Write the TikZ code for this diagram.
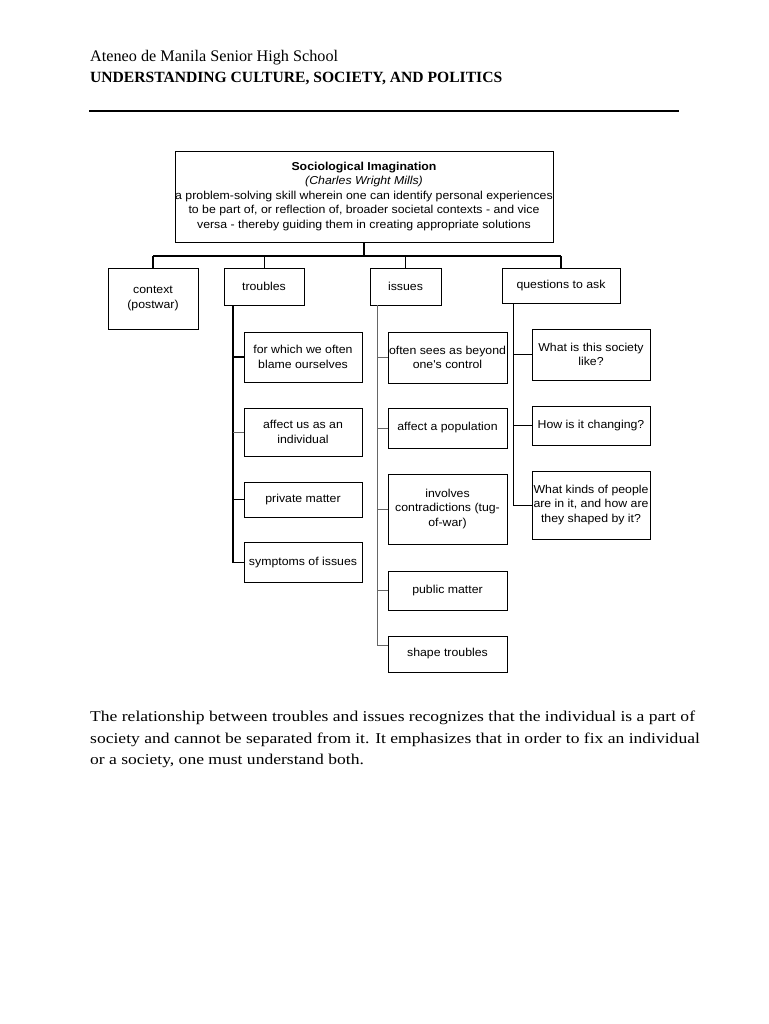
\documentclass[tikz,border=0pt]{standalone}
\usepackage{fontspec}
\setmainfont{Liberation Serif}
\newfontfamily\diagfont[FakeStretch=1.07]{Liberation Sans}
\newfontfamily\parafont[FakeStretch=1.17]{Liberation Serif}
\begin{document}
\begin{tikzpicture}[x=1pt,y=-1pt,
  bx/.style={draw, line width=0.9pt, align=center, inner sep=0pt,
    font=\diagfont\fontsize{11.5}{14.5}\selectfont},
  paraline/.style={anchor=base west, inner sep=0pt, font=\parafont\fontsize{15}{21.5}\selectfont},
  conn/.style={line width=1pt},
  thickconn/.style={line width=1.6pt},
  greyconn/.style={line width=0.8pt, draw=black!60}]
\useasboundingbox (0,0) rectangle (768,1024);
% header
\node[anchor=base west, inner sep=0pt, font=\fontsize{16.2}{19}\selectfont] (h1) at (90,62) {Ateneo de Manila Senior High School};
\node[anchor=base west, inner sep=0pt, font=\bfseries\fontsize{15.6}{19}\selectfont] (h2) at (90,83) {UNDERSTANDING CULTURE, SOCIETY, AND POLITICS};
\coordinate (ruleL) at (89,111);
\coordinate (ruleR) at (679,111);
\draw[line width=2pt] (ruleL) -- (ruleR);
% top box
\node[bx, minimum width=378pt, minimum height=91pt] (top) at (364,196.5)
 {\textbf{Sociological Imagination}\\
  \textit{(Charles Wright Mills)}\\
  a problem-solving skill wherein one can identify personal experiences\\
  to be part of, or reflection of, broader societal contexts - and vice\\
  versa - thereby guiding them in creating appropriate solutions};
% level 1
\node[bx, minimum width=90pt, minimum height=61pt] (context) at (153,298.5) {context\\(postwar)};
\node[bx, minimum width=80pt, minimum height=37pt] (troubles) at (264,286.5) {troubles};
\node[bx, minimum width=71pt, minimum height=37pt] (issues) at (405.5,286.5) {issues};
\node[bx, minimum width=118pt, minimum height=35pt] (questions) at (561,285.5) {questions to ask};
% troubles children
\node[bx, minimum width=118pt, minimum height=50pt] (t1) at (303,357) {for which we often\\blame ourselves};
\node[bx, minimum width=118pt, minimum height=48pt] (t2) at (303,432) {affect us as an\\individual};
\node[bx, minimum width=118pt, minimum height=35pt] (t3) at (303,499.5) {private matter};
\node[bx, minimum width=118pt, minimum height=40pt] (t4) at (303,562.5) {symptoms of issues};
% issues children
\node[bx, minimum width=119pt, minimum height=51pt] (i1) at (447.5,357.5) {often sees as beyond\\one's control};
\node[bx, minimum width=119pt, minimum height=40pt] (i2) at (447.5,428) {affect a population};
\node[bx, minimum width=119pt, minimum height=70pt] (i3) at (447.5,509) {involves\\contradictions (tug-\\of-war)};
\node[bx, minimum width=119pt, minimum height=39pt] (i4) at (447.5,590.5) {public matter};
\node[bx, minimum width=119pt, minimum height=36pt] (i5) at (447.5,654) {shape troubles};
% questions children
\node[bx, minimum width=118pt, minimum height=51pt] (q1) at (591,354.5) {What is this society\\like?};
\node[bx, minimum width=118pt, minimum height=39pt] (q2) at (591,425.5) {How is it changing?};
\node[bx, minimum width=118pt, minimum height=68pt] (q3) at (591,505) {What kinds of people\\are in it, and how are\\they shaped by it?};
% bus
\coordinate (busL) at (153,256);
\coordinate (busR) at (561,256);
\coordinate (busM) at (364,256);
\draw[thickconn] (top.south) -- (busM);
\draw[thickconn] (busL) -- (busR);
\draw[thickconn] (busL) -- (context.north);
\draw[conn] (troubles.north) -- (troubles.north |- busM);
\draw[conn] (issues.north) -- (issues.north |- busM);
\draw[thickconn] (questions.north) -- (questions.north |- busM);
% troubles tree
\coordinate (tx) at (233,305);
\draw[thickconn] (tx) |- (t4.west);
\draw[thickconn] (t1.west) -- (t1.west -| tx);
\draw[greyconn] (t2.west) -- (t2.west -| tx);
\draw[thickconn] (t3.west) -- (t3.west -| tx);
% issues tree
\coordinate (ix) at (377,305);
\draw[greyconn] (ix) |- ([yshift=9pt]i5.west);
\draw[greyconn] (i1.west) -- (i1.west -| ix);
\draw[greyconn] (i2.west) -- (i2.west -| ix);
\draw[greyconn] (i3.west) -- (i3.west -| ix);
\draw[greyconn] (i4.west) -- (i4.west -| ix);
% questions tree
\coordinate (qx) at (513,303);
\draw[conn] (qx) |- (q3.west);
\draw[conn] (q1.west) -- (q1.west -| qx);
\draw[conn] (q2.west) -- (q2.west -| qx);
% paragraph
\node[paraline] (p1) at (90,721) {The relationship between troubles and issues recognizes that the individual is a part of};
\node[paraline] (p2) at (90,743) {society and cannot be separated from it. It emphasizes that in order to fix an individual};
\node[paraline] (p3) at (90,764) {or a society, one must understand both.};
\end{tikzpicture}
\end{document}
